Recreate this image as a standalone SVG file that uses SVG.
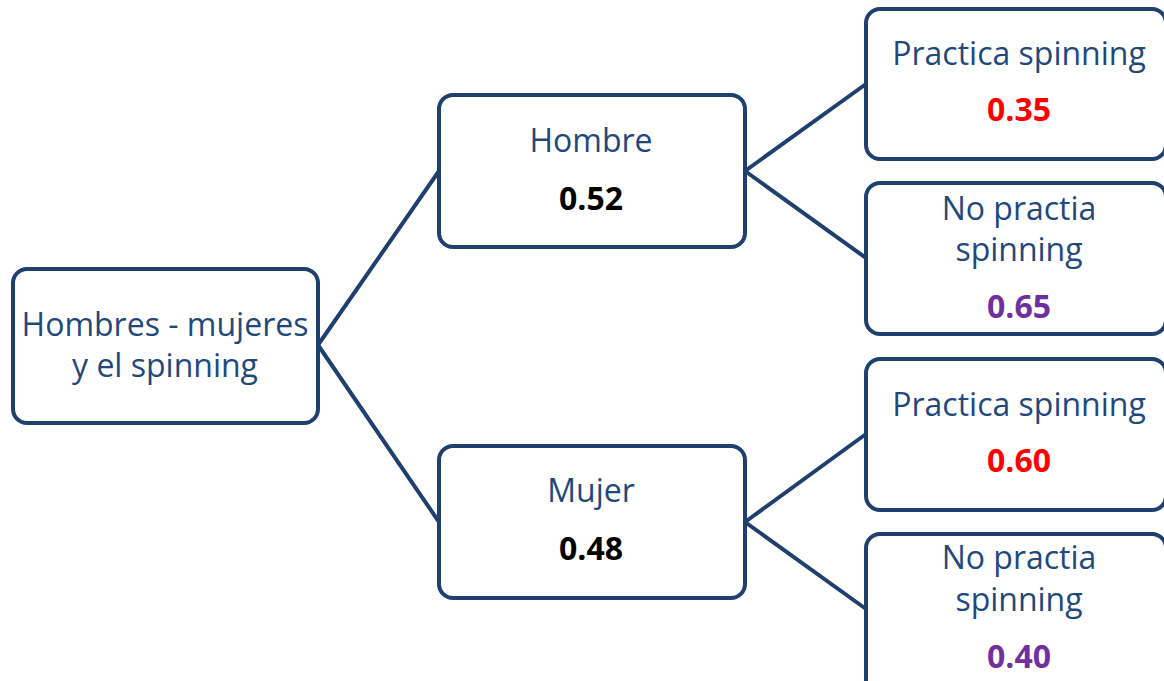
<svg xmlns="http://www.w3.org/2000/svg" width="1164" height="681" viewBox="0 0 1164 681">
<style>
.box{fill:#fff;stroke:#1F3F6E;stroke-width:4}
.lbl{font-family:"Open Sans","Noto Sans",sans-serif;font-size:32px;fill:#1F497D;text-anchor:middle}
.num{font-family:"Open Sans","Noto Sans",sans-serif;font-size:32px;font-weight:bold;text-anchor:middle}
.conn line{stroke:#1F3F6E;stroke-width:4;stroke-linecap:round}
</style>
<rect width="1164" height="681" fill="#fff"/>
<g class="conn" id="connectors">
<line x1="318" y1="345" x2="439" y2="171"/>
<line x1="318" y1="345" x2="439" y2="522"/>
<line x1="745" y1="171" x2="866" y2="84"/>
<line x1="745" y1="171" x2="866" y2="258"/>
<line x1="745" y1="522" x2="866" y2="434"/>
<line x1="745" y1="522" x2="866" y2="609"/>
</g>
<g id="root">
<rect class="box" x="13" y="269" width="305" height="154" rx="14"/>
<text class="lbl" x="165" y="336">Hombres - mujeres</text>
<text class="lbl" x="165" y="377">y el spinning</text>
</g>
<g id="hombre">
<rect class="box" x="439" y="95" width="306" height="152" rx="14"/>
<text class="lbl" x="591" y="152">Hombre</text>
<text class="num" x="591" y="210" fill="#000">0.52</text>
</g>
<g id="mujer">
<rect class="box" x="439" y="446" width="306" height="152" rx="14"/>
<text class="lbl" x="591" y="502">Mujer</text>
<text class="num" x="591" y="560" fill="#000">0.48</text>
</g>
<g id="h-practica">
<rect class="box" x="866" y="9" width="300" height="150" rx="14"/>
<text class="lbl" x="1019" y="65">Practica spinning</text>
<text class="num" x="1019" y="121" fill="#FF0000">0.35</text>
</g>
<g id="h-nopractica">
<rect class="box" x="866" y="183" width="300" height="151" rx="14"/>
<text class="lbl" x="1019" y="220">No practia</text>
<text class="lbl" x="1019" y="261">spinning</text>
<text class="num" x="1019" y="318" fill="#7030A0">0.65</text>
</g>
<g id="m-practica">
<rect class="box" x="866" y="359" width="300" height="151" rx="14"/>
<text class="lbl" x="1019" y="416">Practica spinning</text>
<text class="num" x="1019" y="472" fill="#FF0000">0.60</text>
</g>
<g id="m-nopractica">
<rect class="box" x="866" y="534" width="300" height="160" rx="14"/>
<text class="lbl" x="1019" y="569">No practia</text>
<text class="lbl" x="1019" y="611">spinning</text>
<text class="num" x="1019" y="668" fill="#7030A0">0.40</text>
</g>
</svg>
